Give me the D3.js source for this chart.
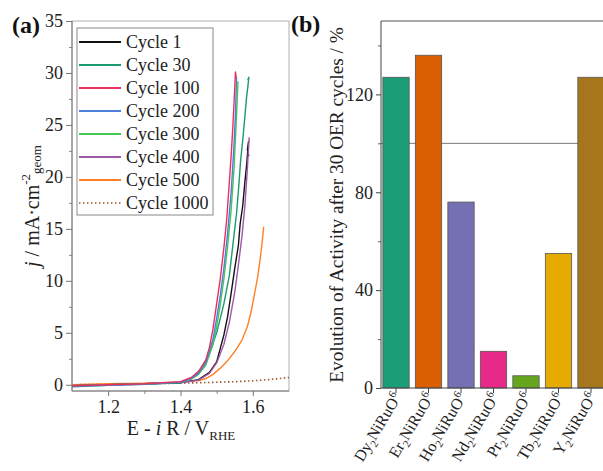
<!DOCTYPE html>
<html lang="en">
<head>
<meta charset="utf-8">
<script src="https://d3js.org/d3.v7.min.js"></script>
<style>
  body { margin: 0; background: #fff; }
  svg { display: block; font-family: "Liberation Serif", "Times New Roman", serif; }
</style>
</head>
<body>
<div id="chart"></div>
<script>
// ---------- data : panel (a), polarisation curves [E, j] ----------
var cycleNames = ["Cycle 1", "Cycle 30", "Cycle 100", "Cycle 200", "Cycle 300", "Cycle 400", "Cycle 500", "Cycle 1000"];
var cycleColors = ["#111111", "#1b9a70", "#e8305f", "#4f80d9", "#45c850", "#9b59a8", "#ff8024", "#a0522d"];

var cycle1 = [[1.10,-0.1],[1.20,0.0],[1.30,0.1],[1.40,0.2],[1.45,0.5],[1.48,1.2],[1.50,2.2],[1.52,4.8],[1.53,6.5],[1.54,8.8],[1.55,11.2],[1.56,13.4],[1.565,15.5],[1.572,17.2],[1.578,19.5],[1.583,21.2],[1.588,23.4],[1.585,22.6],[1.589,22.0]];
var cycle30 = [[1.10,-0.2],[1.20,-0.05],[1.30,0.05],[1.40,0.2],[1.43,0.6],[1.46,1.6],[1.48,3.0],[1.50,5.0],[1.52,7.8],[1.535,10.5],[1.545,13.5],[1.555,16.5],[1.562,19.5],[1.566,21.5],[1.572,23.5],[1.578,25.8],[1.583,27.8],[1.586,28.6],[1.589,29.6],[1.586,29.3]];
var cycle100 = [[1.10,-0.1],[1.20,0.0],[1.30,0.1],[1.40,0.3],[1.43,0.7],[1.45,1.3],[1.47,2.4],[1.48,3.6],[1.49,5.4],[1.50,7.8],[1.51,10.2],[1.52,13.2],[1.528,16.0],[1.534,19.0],[1.540,22.0],[1.545,25.0],[1.549,27.8],[1.552,30.1],[1.554,29.5]];
var cycle200 = [[1.10,-0.15],[1.20,-0.05],[1.30,0.05],[1.40,0.25],[1.43,0.6],[1.45,1.1],[1.47,2.1],[1.49,4.4],[1.50,6.4],[1.51,8.6],[1.52,11.2],[1.53,14.5],[1.54,18.5],[1.547,22.5],[1.552,26.0],[1.555,29.6]];
var cycle300 = [[1.10,-0.1],[1.20,0.0],[1.30,0.1],[1.40,0.25],[1.43,0.55],[1.45,1.0],[1.47,1.9],[1.49,3.9],[1.50,5.6],[1.51,7.7],[1.52,10.2],[1.53,13.2],[1.54,16.8],[1.548,20.8],[1.553,24.5],[1.557,27.5],[1.559,29.2]];
var cycle400 = [[1.10,-0.1],[1.20,0.0],[1.30,0.1],[1.40,0.2],[1.45,0.45],[1.48,1.1],[1.50,2.1],[1.52,3.9],[1.535,6.0],[1.55,8.9],[1.56,11.5],[1.57,14.3],[1.578,17.2],[1.584,20.3],[1.588,22.6],[1.590,23.8]];
var cycle500 = [[1.10,0.0],[1.20,0.1],[1.30,0.15],[1.40,0.25],[1.45,0.4],[1.47,0.6],[1.49,1.0],[1.51,1.6],[1.53,2.3],[1.55,3.2],[1.57,4.3],[1.585,5.6],[1.595,7.0],[1.605,8.8],[1.613,10.3],[1.62,12.0],[1.626,13.8],[1.630,15.2]];
var cycle1000 = [[1.10,0.0],[1.20,0.05],[1.30,0.1],[1.40,0.15],[1.45,0.2],[1.50,0.24],[1.55,0.3],[1.60,0.38],[1.65,0.52],[1.70,0.7]];
var cycleData = [cycle1, cycle30, cycle100, cycle200, cycle300, cycle400, cycle500, cycle1000];

var xTicksA = [1.2, 1.4, 1.6];
var xMinorA = [1.3, 1.5];
var yTicksA = [0, 5, 10, 15, 20, 25, 30, 35];
var yMinorA = [2.5, 7.5, 12.5, 17.5, 22.5, 27.5, 32.5];

// ---------- data : panel (b), activity after 30 cycles ----------
var elements = ["Dy", "Er", "Ho", "Nd", "Pr", "Tb", "Y"];
var activity = [127, 136, 76, 15, 5, 55, 127];
var yTicksB = [0, 40, 80, 120];
var yMinorB = [20, 60, 100, 140];

var W = 603, H = 471;
var svg = d3.select("#chart").append("svg").attr("width", W).attr("height", H);
svg.append("rect").attr("width", W).attr("height", H).attr("fill", "#fff");

// ================= panel (a) =================
var xA = d3.scaleLinear().domain([1.1, 1.7]).range([72, 289]);
var yA = d3.scaleLinear().domain([-0.6, 35]).range([391, 21]);

// frame
svg.append("rect")
  .attr("x", 72).attr("y", 21).attr("width", 289 - 72).attr("height", 391 - 21)
  .attr("fill", "none").attr("stroke", "#b0b0b0").attr("stroke-width", 1);

// curves
var line = d3.line().x(d => xA(d[0])).y(d => yA(d[1]));
var order = [7, 6, 0, 5, 1, 4, 3, 2];
order.forEach(function (i) {
  svg.append("path")
    .attr("d", line(cycleData[i]))
    .attr("fill", "none")
    .attr("stroke", cycleColors[i])
    .attr("stroke-width", i == 7 ? 1.6 : 1.4)
    .attr("stroke-dasharray", i == 7 ? "1.5,2.5" : null)
    .attr("stroke-linejoin", "round");
});

function styleAxis(g, col) {
  g.select(".domain").attr("stroke", col);
  g.selectAll(".tick line").attr("stroke", col);
  g.selectAll("text").attr("fill", "#222").style("font-family", "Liberation Serif").style("font-size", "18px");
}

var axLeftA = svg.append("g").attr("transform", "translate(72,0)")
  .call(d3.axisLeft(yA).tickValues(yTicksA).tickSize(6).tickSizeOuter(0).tickPadding(3).tickFormat(d3.format("d")));
styleAxis(axLeftA, "#777");
axLeftA.select(".domain").remove();
svg.append("g").attr("transform", "translate(72,0)")
  .call(d3.axisLeft(yA).tickValues(yMinorA).tickSize(3).tickSizeOuter(0).tickFormat(""))
  .call(g => { g.select(".domain").remove(); g.selectAll("line").attr("stroke", "#888"); });

var axBotA = svg.append("g").attr("transform", "translate(0,391)")
  .call(d3.axisBottom(xA).tickValues(xTicksA).tickSize(5).tickSizeOuter(0).tickPadding(4).tickFormat(d3.format(".1f")));
styleAxis(axBotA, "#777");
axBotA.select(".domain").remove();
svg.append("g").attr("transform", "translate(0,391)")
  .call(d3.axisBottom(xA).tickValues(xMinorA).tickSize(3).tickSizeOuter(0).tickFormat(""))
  .call(g => { g.select(".domain").remove(); g.selectAll("line").attr("stroke", "#888"); });

svg.append("line").attr("x1", 72).attr("x2", 72).attr("y1", 21).attr("y2", 391).attr("stroke", "#777");
svg.append("line").attr("x1", 72).attr("x2", 289).attr("y1", 391).attr("y2", 391).attr("stroke", "#777");

// legend
var leg = svg.append("g");
leg.append("rect").attr("x", 77).attr("y", 28).attr("width", 136).attr("height", 187)
  .attr("fill", "#fff").attr("stroke", "#888");
cycleNames.forEach(function (n, i) {
  var yy = 42 + i * 23;
  leg.append("line").attr("x1", 79).attr("x2", 121).attr("y1", yy).attr("y2", yy)
    .attr("stroke", cycleColors[i]).attr("stroke-width", i == 7 ? 1.6 : 2)
    .attr("stroke-dasharray", i == 7 ? "1.5,2.5" : null);
  leg.append("text").attr("x", 126).attr("y", yy + 6)
    .style("font-size", "18px").attr("fill", "#222").text(n);
});

// axis titles
var xt = svg.append("text").attr("x", 181).attr("y", 435).attr("text-anchor", "middle")
  .style("font-size", "20px").attr("fill", "#222");
xt.append("tspan").text("E - ");
xt.append("tspan").style("font-style", "italic").text("i");
xt.append("tspan").text(" R / V");
xt.append("tspan").attr("dy", 5).style("font-size", "13px").text("RHE");

var yt = svg.append("text").attr("transform", "translate(39,206) rotate(-90)")
  .attr("text-anchor", "middle").style("font-size", "20px").attr("fill", "#222");
yt.append("tspan").style("font-style", "italic").text("j");
yt.append("tspan").text(" / mA\u00b7cm");
yt.append("tspan").attr("dy", -9).style("font-size", "13px").text("-2");
yt.append("tspan").attr("dy", 11).style("font-size", "13px").text("geom");

svg.append("text").attr("x", 12).attr("y", 33).style("font-size", "24px").style("font-weight", "bold")
  .attr("fill", "#111").text("(a)");

// ================= panel (b) =================
var xB = d3.scaleBand().domain(elements).range([381, 606]).paddingInner(0.19).paddingOuter(0.057);
var yB = d3.scaleLinear().domain([0, 150]).range([388, 21]);

// frame lines
svg.append("line").attr("x1", 381).attr("x2", W).attr("y1", 21).attr("y2", 21).attr("stroke", "#555");
// 100 % reference
svg.append("line").attr("x1", 381).attr("x2", W).attr("y1", yB(100)).attr("y2", yB(100))
  .attr("stroke", "#777").attr("stroke-width", 1);

svg.selectAll(".bar").data(activity).enter().append("rect")
  .attr("class", "bar")
  .attr("x", (d, i) => xB(elements[i]))
  .attr("y", d => yB(d))
  .attr("width", xB.bandwidth())
  .attr("height", d => yB(0) - yB(d))
  .attr("fill", (d, i) => d3.schemeDark2[i])
  .attr("stroke", "#555").attr("stroke-width", 0.8);

var axLeftB = svg.append("g").attr("transform", "translate(381,0)")
  .call(d3.axisLeft(yB).tickValues(yTicksB).tickSize(5).tickSizeOuter(0).tickPadding(3));
styleAxis(axLeftB, "#444");
axLeftB.select(".domain").remove();
svg.append("g").attr("transform", "translate(381,0)")
  .call(d3.axisLeft(yB).tickValues(yMinorB).tickSize(3).tickSizeOuter(0).tickFormat(""))
  .call(g => { g.select(".domain").remove(); g.selectAll("line").attr("stroke", "#666"); });

var axBotB = svg.append("g").attr("transform", "translate(0,388)")
  .call(d3.axisBottom(xB).tickSize(5).tickSizeOuter(0).tickFormat(""));
axBotB.select(".domain").remove();
axBotB.selectAll("line").attr("stroke", "#444");

svg.append("line").attr("x1", 381).attr("x2", 381).attr("y1", 21).attr("y2", 388).attr("stroke", "#444");
svg.append("line").attr("x1", 381).attr("x2", W).attr("y1", 388).attr("y2", 388).attr("stroke", "#444");

// rotated compound labels
elements.forEach(function (el) {
  var cx = xB(el) + xB.bandwidth() / 2;
  var t = svg.append("text")
    .attr("transform", "translate(" + (cx + 6) + ",397) rotate(-59)")
    .attr("text-anchor", "end").style("font-size", "16px").attr("fill", "#222");
  t.append("tspan").text(el);
  t.append("tspan").attr("dy", 4).style("font-size", "11px").text("2");
  t.append("tspan").attr("dy", -4).text("NiRuO");
  t.append("tspan").attr("dy", -6).style("font-size", "11px").text("6");
});

svg.append("text").attr("transform", "translate(343,205) rotate(-90)")
  .attr("text-anchor", "middle").style("font-size", "19.3px").attr("fill", "#222")
  .text("Evolution of Activity after 30 OER cycles / %");

svg.append("text").attr("x", 291).attr("y", 32).style("font-size", "24px").style("font-weight", "bold")
  .attr("fill", "#111").text("(b)");
</script>
</body>
</html>
